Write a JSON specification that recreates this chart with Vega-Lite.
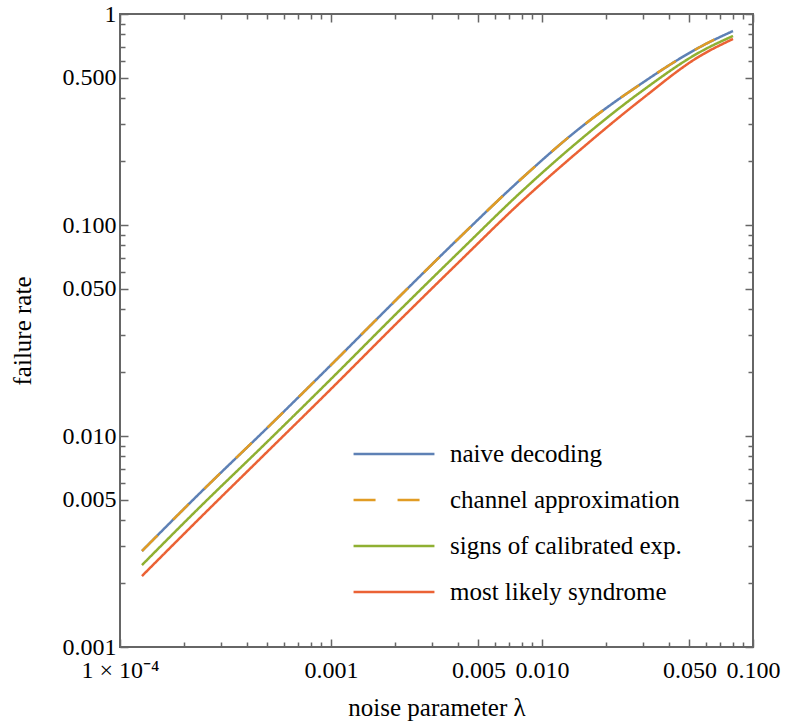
{
  "$schema": "https://vega.github.io/schema/vega-lite/v6.json",
  "width": 633,
  "height": 633,
  "autosize": {"type": "none"},
  "padding": {"left": 120, "top": 14, "right": 32, "bottom": 79},
  "background": "white",
  "config": {
    "font": "Liberation Serif",
    "view": {"stroke": "#666666", "strokeWidth": 2},
    "axis": {
      "grid": false,
      "domain": false,
      "labelFont": "Liberation Serif",
      "labelFontSize": 24,
      "labelColor": "black",
      "titleFont": "Liberation Serif",
      "titleFontSize": 25,
      "titleFontWeight": "normal",
      "titleColor": "black",
      "tickColor": "#666666",
      "tickWidth": 1.5
    },
    "legend": {"labelFont": "Liberation Serif", "labelLimit": 500}
  },
  "datasets": {
    "curves": [
      {"lambda": 0.0001271, "rate": 0.002851, "series": "naive decoding"},
      {"lambda": 0.0002393, "rate": 0.005367, "series": "naive decoding"},
      {"lambda": 0.0004866, "rate": 0.01067, "series": "naive decoding"},
      {"lambda": 0.000989, "rate": 0.02147, "series": "naive decoding"},
      {"lambda": 0.002123, "rate": 0.04608, "series": "naive decoding"},
      {"lambda": 0.004087, "rate": 0.08769, "series": "naive decoding"},
      {"lambda": 0.007865, "rate": 0.1634, "series": "naive decoding"},
      {"lambda": 0.01514, "rate": 0.2883, "series": "naive decoding"},
      {"lambda": 0.02914, "rate": 0.4634, "series": "naive decoding"},
      {"lambda": 0.05609, "rate": 0.6977, "series": "naive decoding"},
      {"lambda": 0.08037, "rate": 0.8307, "series": "naive decoding"},
      {"lambda": 0.0001271, "rate": 0.002851, "series": "channel approximation"},
      {"lambda": 0.0002393, "rate": 0.005367, "series": "channel approximation"},
      {"lambda": 0.0004866, "rate": 0.01067, "series": "channel approximation"},
      {"lambda": 0.000989, "rate": 0.02147, "series": "channel approximation"},
      {"lambda": 0.002123, "rate": 0.04608, "series": "channel approximation"},
      {"lambda": 0.004087, "rate": 0.08769, "series": "channel approximation"},
      {"lambda": 0.007865, "rate": 0.1634, "series": "channel approximation"},
      {"lambda": 0.01514, "rate": 0.2883, "series": "channel approximation"},
      {"lambda": 0.02914, "rate": 0.4634, "series": "channel approximation"},
      {"lambda": 0.05609, "rate": 0.6977, "series": "channel approximation"},
      {"lambda": 0.08037, "rate": 0.8307, "series": "channel approximation"},
      {"lambda": 0.0001271, "rate": 0.002446, "series": "signs of calibrated exp."},
      {"lambda": 0.0002393, "rate": 0.004608, "series": "signs of calibrated exp."},
      {"lambda": 0.0004866, "rate": 0.009166, "series": "signs of calibrated exp."},
      {"lambda": 0.000989, "rate": 0.01842, "series": "signs of calibrated exp."},
      {"lambda": 0.002123, "rate": 0.03956, "series": "signs of calibrated exp."},
      {"lambda": 0.004087, "rate": 0.07527, "series": "signs of calibrated exp."},
      {"lambda": 0.007865, "rate": 0.1418, "series": "signs of calibrated exp."},
      {"lambda": 0.01514, "rate": 0.2529, "series": "signs of calibrated exp."},
      {"lambda": 0.02914, "rate": 0.4246, "series": "signs of calibrated exp."},
      {"lambda": 0.05609, "rate": 0.6605, "series": "signs of calibrated exp."},
      {"lambda": 0.08037, "rate": 0.7867, "series": "signs of calibrated exp."},
      {"lambda": 0.0001271, "rate": 0.00217, "series": "most likely syndrome"},
      {"lambda": 0.0002393, "rate": 0.004087, "series": "most likely syndrome"},
      {"lambda": 0.0004866, "rate": 0.008217, "series": "most likely syndrome"},
      {"lambda": 0.000989, "rate": 0.01652, "series": "most likely syndrome"},
      {"lambda": 0.002123, "rate": 0.03548, "series": "most likely syndrome"},
      {"lambda": 0.004087, "rate": 0.06752, "series": "most likely syndrome"},
      {"lambda": 0.007865, "rate": 0.1272, "series": "most likely syndrome"},
      {"lambda": 0.01514, "rate": 0.2267, "series": "most likely syndrome"},
      {"lambda": 0.02914, "rate": 0.389, "series": "most likely syndrome"},
      {"lambda": 0.05609, "rate": 0.6324, "series": "most likely syndrome"},
      {"lambda": 0.08037, "rate": 0.7614, "series": "most likely syndrome"}
    ]
  },
  "data": {"name": "curves"},
  "layer": [
    {
      "transform": [{"filter": "datum.series != 'channel approximation'"}],
      "mark": {"type": "line", "strokeWidth": 2.5, "interpolate": "monotone"},
      "encoding": {
        "x": {
          "field": "lambda", "type": "quantitative",
          "scale": {"type": "log", "domain": [0.0001, 0.1], "nice": false},
          "axis": {
            "orient": "bottom", "ticks": false, "labelPadding": 11,
            "values": [0.0001, 0.001, 0.005, 0.01, 0.05, 0.1],
            "labelExpr": "datum.value < 0.0005 ? '1 × 10⁻⁴' : format(datum.value, '.3f')",
            "labelFont": "Liberation Serif", "titleFont": "Liberation Serif",
            "labelFlush": false, "labelOverlap": false,
            "title": "noise parameter λ", "titlePadding": 13
          }
        },
        "y": {
          "field": "rate", "type": "quantitative",
          "scale": {"type": "log", "domain": [0.001, 1], "nice": false},
          "axis": {
            "orient": "left", "ticks": false, "labelPadding": 4,
            "values": [0.001, 0.005, 0.01, 0.05, 0.1, 0.5, 1],
            "labelExpr": "datum.value > 0.9 ? '1' : format(datum.value, '.3f')",
            "labelFont": "Liberation Serif", "titleFont": "Liberation Serif",
            "labelFlush": false, "labelOverlap": false,
            "title": "failure rate", "titlePadding": 27
          }
        },
        "color": {
          "field": "series", "type": "nominal",
          "scale": {
            "domain": ["naive decoding", "channel approximation", "signs of calibrated exp.", "most likely syndrome"],
            "range": ["#5E81B5", "#E19C24", "#8FB032", "#EB6235"]
          },
          "legend": {
            "title": null, "orient": "none", "legendX": 251, "legendY": 417,
            "symbolType": "M-1.86,0H1.86", "symbolSize": 1892, "symbolStrokeWidth": 2.5,
            "labelOffset": 33, "rowPadding": 10, "padding": 0, "labelLimit": 500,
            "labelFont": "Liberation Serif", "labelFontSize": 25, "labelColor": "black"
          }
        },
        "strokeDash": {
          "field": "series", "type": "nominal",
          "scale": {
            "domain": ["naive decoding", "channel approximation", "signs of calibrated exp.", "most likely syndrome"],
            "range": [[1, 0], [22, 22], [1, 0], [1, 0]]
          },
          "legend": {
            "title": null, "orient": "none", "legendX": 251, "legendY": 417,
            "symbolType": "M-1.86,0H1.86", "symbolSize": 1892, "symbolStrokeWidth": 2.5,
            "labelOffset": 33, "rowPadding": 10, "padding": 0, "labelLimit": 500,
            "labelFont": "Liberation Serif", "labelFontSize": 25, "labelColor": "black"
          }
        }
      }
    },
    {
      "transform": [{"filter": "datum.series == 'channel approximation'"}],
      "mark": {"type": "line", "strokeWidth": 2.5, "interpolate": "monotone"},
      "encoding": {
        "x": {
          "field": "lambda", "type": "quantitative",
          "scale": {"type": "log", "domain": [0.0001, 0.1], "nice": false},
          "axis": {
            "orient": "bottom", "labels": false, "tickSize": -8, "title": null,
            "values": [0.0001, 0.001, 0.005, 0.01, 0.05, 0.1]
          }
        },
        "y": {
          "field": "rate", "type": "quantitative",
          "scale": {"type": "log", "domain": [0.001, 1], "nice": false},
          "axis": {
            "orient": "left", "labels": false, "tickSize": -8, "title": null,
            "values": [0.001, 0.005, 0.01, 0.05, 0.1, 0.5, 1]
          }
        },
        "color": {
          "field": "series", "type": "nominal",
          "scale": {
            "domain": ["naive decoding", "channel approximation", "signs of calibrated exp.", "most likely syndrome"],
            "range": ["#5E81B5", "#E19C24", "#8FB032", "#EB6235"]
          },
          "legend": {
            "title": null, "orient": "none", "legendX": 251, "legendY": 417,
            "symbolType": "M-1.86,0H1.86", "symbolSize": 1892, "symbolStrokeWidth": 2.5,
            "labelOffset": 33, "rowPadding": 10, "padding": 0, "labelLimit": 500,
            "labelFont": "Liberation Serif", "labelFontSize": 25, "labelColor": "black"
          }
        },
        "strokeDash": {
          "field": "series", "type": "nominal",
          "scale": {
            "domain": ["naive decoding", "channel approximation", "signs of calibrated exp.", "most likely syndrome"],
            "range": [[1, 0], [22, 22], [1, 0], [1, 0]]
          },
          "legend": {
            "title": null, "orient": "none", "legendX": 251, "legendY": 417,
            "symbolType": "M-1.86,0H1.86", "symbolSize": 1892, "symbolStrokeWidth": 2.5,
            "labelOffset": 33, "rowPadding": 10, "padding": 0, "labelLimit": 500,
            "labelFont": "Liberation Serif", "labelFontSize": 25, "labelColor": "black"
          }
        }
      }
    },
    {
      "mark": {"type": "line", "opacity": 0},
      "encoding": {
        "detail": {"field": "series"},
        "x": {
          "field": "lambda", "type": "quantitative",
          "scale": {"type": "log", "domain": [0.0001, 0.1], "nice": false},
          "axis": {
            "orient": "bottom", "labels": false, "tickSize": -5, "title": null,
            "values": [0.0002, 0.0003, 0.0004, 0.0005, 0.0006, 0.0007, 0.0008, 0.0009, 0.002, 0.003, 0.004, 0.006, 0.007, 0.008, 0.009, 0.02, 0.03, 0.04, 0.06, 0.07, 0.08, 0.09]
          }
        },
        "y": {
          "field": "rate", "type": "quantitative",
          "scale": {"type": "log", "domain": [0.001, 1], "nice": false},
          "axis": {
            "orient": "left", "labels": false, "tickSize": -5, "title": null,
            "values": [0.002, 0.003, 0.004, 0.006, 0.007, 0.008, 0.009, 0.02, 0.03, 0.04, 0.06, 0.07, 0.08, 0.09, 0.2, 0.3, 0.4, 0.6, 0.7, 0.8, 0.9]
          }
        }
      }
    },
    {
      "mark": {"type": "line", "opacity": 0},
      "encoding": {
        "detail": {"field": "series"},
        "x": {
          "field": "lambda", "type": "quantitative",
          "scale": {"type": "log", "domain": [0.0001, 0.1], "nice": false},
          "axis": {
            "orient": "top", "labels": false, "tickSize": -8, "title": null,
            "values": [0.0001, 0.001, 0.005, 0.01, 0.05, 0.1]
          }
        },
        "y": {
          "field": "rate", "type": "quantitative",
          "scale": {"type": "log", "domain": [0.001, 1], "nice": false},
          "axis": {
            "orient": "right", "labels": false, "tickSize": -8, "title": null,
            "values": [0.001, 0.005, 0.01, 0.05, 0.1, 0.5, 1]
          }
        }
      }
    },
    {
      "mark": {"type": "line", "opacity": 0},
      "encoding": {
        "detail": {"field": "series"},
        "x": {
          "field": "lambda", "type": "quantitative",
          "scale": {"type": "log", "domain": [0.0001, 0.1], "nice": false},
          "axis": {
            "orient": "top", "labels": false, "tickSize": -5, "title": null,
            "values": [0.0002, 0.0003, 0.0004, 0.0005, 0.0006, 0.0007, 0.0008, 0.0009, 0.002, 0.003, 0.004, 0.006, 0.007, 0.008, 0.009, 0.02, 0.03, 0.04, 0.06, 0.07, 0.08, 0.09]
          }
        },
        "y": {
          "field": "rate", "type": "quantitative",
          "scale": {"type": "log", "domain": [0.001, 1], "nice": false},
          "axis": {
            "orient": "right", "labels": false, "tickSize": -5, "title": null,
            "values": [0.002, 0.003, 0.004, 0.006, 0.007, 0.008, 0.009, 0.02, 0.03, 0.04, 0.06, 0.07, 0.08, 0.09, 0.2, 0.3, 0.4, 0.6, 0.7, 0.8, 0.9]
          }
        }
      }
    }
  ],
  "resolve": {"axis": {"x": "independent", "y": "independent"}}
}
